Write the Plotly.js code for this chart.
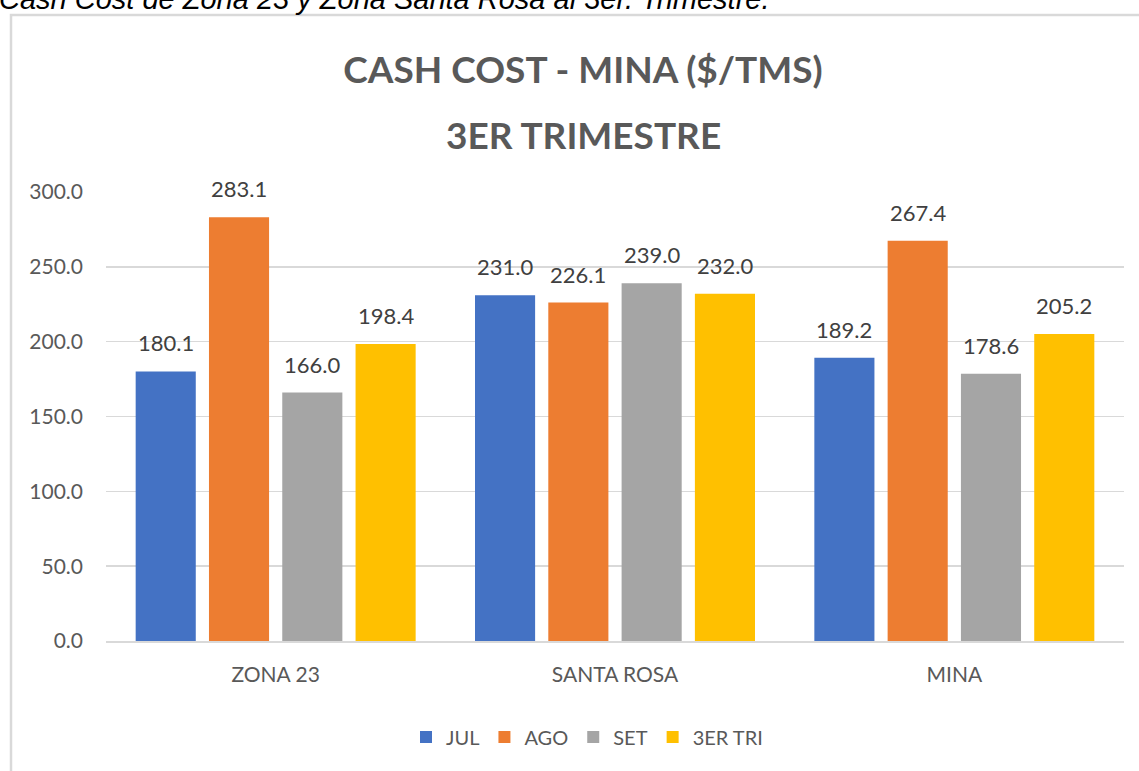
<!DOCTYPE html>
<html>
<head>
<meta charset="utf-8">
<script src="https://cdn.plot.ly/plotly-3.0.1.min.js"></script>
<style>html,body{margin:0;padding:0;background:#fff;}#chart{width:1139px;height:771px;}</style>
</head>
<body>
<div id="chart"></div>
<script>
const categories = ["ZONA 23", "SANTA ROSA", "MINA"];
const seriesNames = ["JUL", "AGO", "SET", "3ER TRI"];
const julValues = [180.1, 231.0, 189.2];
const agoValues = [283.1, 226.1, 267.4];
const setValues = [166.0, 239.0, 178.6];
const triValues = [198.4, 232.0, 205.2];
const yTickValues = [0, 50, 100, 150, 200, 250, 300];
const titleLine1 = "CASH COST - MINA ($/TMS)";
const titleLine2 = "3ER TRIMESTRE";
const captionText = "Cash Cost de Zona 23 y Zona Santa Rosa al 3er. Trimestre.";

const colors = ["#4472C4", "#ED7D31", "#A5A5A5", "#FFC000"];
const allValues = [julValues, agoValues, setValues, triValues];
const BARGAP = 0.136, BARGROUPGAP = 0.18;

const traces = allValues.map((vals, i) => ({
  type: "bar",
  name: seriesNames[i],
  x: categories,
  y: vals,
  marker: {color: colors[i]},
  hoverinfo: "none"
}));

const L = 106, R = 1124, T = 192, B = 641;
const W = R - L, H = B - T;
const px = x => (x - L) / W;
const py = y => (B - y) / H;

// value labels, placed in data units (category index + group slot offset)
const slot = (1 - BARGAP) / allValues.length;
const labelAnnotations = [];
allValues.forEach((vals, i) => {
  vals.forEach((v, j) => {
    labelAnnotations.push({
      xref: "x", yref: "y",
      x: j + slot * (i - (allValues.length - 1) / 2),
      y: v, yanchor: "bottom", xanchor: "center", yshift: 13,
      text: v.toFixed(1), showarrow: false,
      font: {family: "Lato, sans-serif", size: 22, color: "#404040"}
    });
  });
});

const layout = {
  width: 1139, height: 771,
  margin: {l: L, r: 1139 - R, t: T, b: 771 - B},
  paper_bgcolor: "#fff", plot_bgcolor: "#fff",
  barmode: "group", bargap: BARGAP, bargroupgap: BARGROUPGAP,
  font: {family: "Lato, sans-serif", color: "#595959"},
  title: {
    text: "<b>" + titleLine1 + "</b>",
    font: {family: "Lato, sans-serif", size: 37, color: "#595959"},
    xref: "container", x: 583 / 1139, xanchor: "center",
    yref: "container", y: 1 - 70 / 771, yanchor: "middle"
  },
  xaxis: {
    showgrid: false, showline: true, linecolor: "#d9d9d9", linewidth: 1.5,
    ticks: "", tickfont: {size: 21, color: "#595959"}, ticklabelstandoff: 14
  },
  yaxis: {
    range: [0, 300], tickvals: yTickValues,
    tickformat: ".1f", gridcolor: "#d9d9d9", gridwidth: 1.5,
    zeroline: false, showline: false, ticks: "",
    tickfont: {size: 21, color: "#595959"}, ticklabelstandoff: 22
  },
  showlegend: true,
  legend: {
    orientation: "h", xref: "paper", x: px(587), xanchor: "center",
    yref: "paper", y: py(737), yanchor: "middle",
    font: {size: 20, color: "#595959"}, traceorder: "normal",
    itemwidth: 30
  },
  shapes: [{
    type: "rect", xref: "paper", yref: "paper",
    x0: px(11), x1: px(1200), y0: py(15), y1: py(900),
    line: {color: "#d9d9d9", width: 2.5}, fillcolor: "rgba(0,0,0,0)", layer: "below"
  }],
  annotations: [{
    text: "<b>" + titleLine2 + "</b>",
    xref: "paper", yref: "paper", x: px(583), y: py(134),
    xanchor: "center", yanchor: "middle", showarrow: false,
    font: {family: "Lato, sans-serif", size: 37, color: "#595959"}
  }, {
    text: "<i>" + captionText + "</i>",
    xref: "paper", yref: "paper", x: px(-3), y: py(17),
    xanchor: "left", yanchor: "bottom", showarrow: false,
    font: {family: "Liberation Sans, Arial, sans-serif", size: 29, color: "#000"}
  }].concat(labelAnnotations)
};

Plotly.newPlot("chart", traces, layout, {displayModeBar: false, staticPlot: true});
</script>
</body>
</html>
